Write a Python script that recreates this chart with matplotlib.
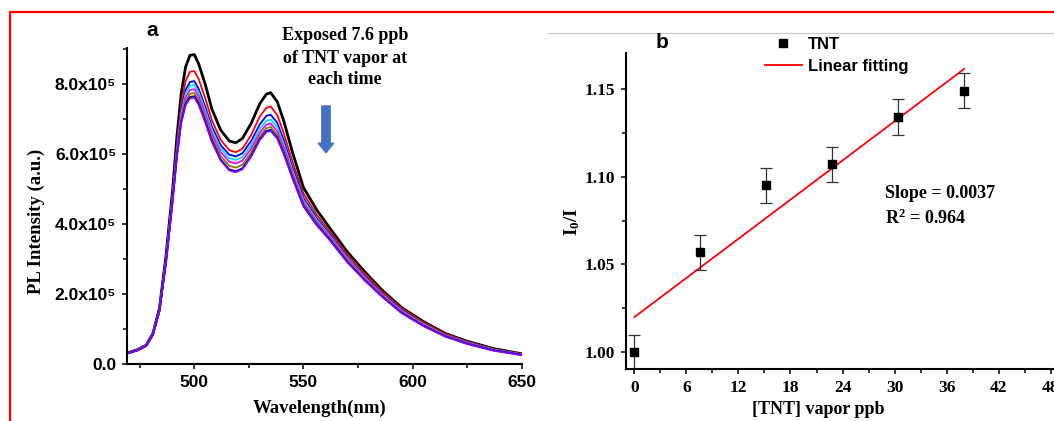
import numpy as np
import matplotlib
matplotlib.use('Agg')
import matplotlib.pyplot as plt
from matplotlib.lines import Line2D
from matplotlib.patches import FancyArrow
from matplotlib.ticker import MultipleLocator, FuncFormatter, FormatStrFormatter

# ---------------- data: panel a (PL spectra, intensity in units of 1e5) ----------------
wavelength = [470, 474, 478, 481, 484, 487, 490, 492, 494, 496, 498, 500, 502, 505, 508,
              512, 516, 519, 522, 526, 530, 533, 535, 538, 541, 545, 550, 556, 562, 570,
              578, 586, 595, 605, 615, 625, 637, 650]
spec_0 = [0.34, 0.42, 0.55, 0.88, 1.60, 3.10, 4.95, 6.50, 7.75, 8.50, 8.83, 8.85, 8.58, 8.00, 7.30,
          6.70, 6.38, 6.33, 6.45, 6.88, 7.45, 7.72, 7.76, 7.50, 6.95, 6.05, 5.05, 4.42, 3.90, 3.22,
          2.65, 2.12, 1.62, 1.22, 0.88, 0.66, 0.45, 0.30]
spec_1 = [0.34, 0.42, 0.55, 0.87, 1.58, 3.05, 4.85, 6.30, 7.45, 8.10, 8.36, 8.38, 8.15, 7.60, 6.98,
          6.42, 6.12, 6.06, 6.16, 6.55, 7.08, 7.33, 7.37, 7.12, 6.60, 5.78, 4.88, 4.28, 3.80, 3.14,
          2.59, 2.08, 1.60, 1.20, 0.87, 0.65, 0.44, 0.30]
spec_2 = [0.33, 0.41, 0.54, 0.86, 1.56, 3.00, 4.78, 6.15, 7.25, 7.84, 8.07, 8.09, 7.87, 7.36, 6.80,
          6.27, 5.99, 5.94, 6.03, 6.38, 6.86, 7.10, 7.13, 6.90, 6.40, 5.62, 4.76, 4.18, 3.72, 3.06,
          2.52, 2.02, 1.55, 1.16, 0.84, 0.63, 0.43, 0.29]
spec_3 = [0.33, 0.41, 0.54, 0.86, 1.55, 2.98, 4.75, 6.10, 7.17, 7.74, 7.96, 7.98, 7.76, 7.26, 6.70,
          6.17, 5.89, 5.84, 5.92, 6.26, 6.73, 6.96, 6.99, 6.77, 6.29, 5.54, 4.69, 4.13, 3.68, 3.03,
          2.49, 2.00, 1.53, 1.15, 0.83, 0.62, 0.42, 0.28]
spec_4 = [0.33, 0.41, 0.54, 0.85, 1.54, 2.95, 4.72, 6.05, 7.08, 7.63, 7.84, 7.86, 7.65, 7.15, 6.60,
          6.07, 5.79, 5.74, 5.82, 6.16, 6.62, 6.85, 6.88, 6.66, 6.19, 5.46, 4.63, 4.08, 3.64, 3.00,
          2.47, 1.98, 1.51, 1.13, 0.82, 0.61, 0.41, 0.28]
spec_5 = [0.33, 0.40, 0.53, 0.85, 1.53, 2.93, 4.68, 6.00, 7.00, 7.53, 7.73, 7.75, 7.54, 7.04, 6.49,
          5.96, 5.67, 5.62, 5.70, 6.05, 6.52, 6.75, 6.78, 6.56, 6.10, 5.39, 4.58, 4.04, 3.60, 2.97,
          2.44, 1.96, 1.49, 1.12, 0.81, 0.60, 0.41, 0.27]
spec_6 = [0.32, 0.40, 0.53, 0.84, 1.52, 2.90, 4.65, 5.95, 6.93, 7.45, 7.64, 7.66, 7.45, 6.95, 6.40,
          5.86, 5.57, 5.52, 5.60, 5.96, 6.44, 6.67, 6.70, 6.48, 6.03, 5.33, 4.53, 4.00, 3.57, 2.94,
          2.41, 1.94, 1.47, 1.10, 0.80, 0.59, 0.40, 0.27]
spec_7 = [0.32, 0.40, 0.53, 0.84, 1.51, 2.88, 4.62, 5.92, 6.90, 7.41, 7.60, 7.62, 7.41, 6.91, 6.36,
          5.83, 5.54, 5.49, 5.57, 5.93, 6.41, 6.64, 6.67, 6.45, 6.00, 5.31, 4.51, 3.98, 3.55, 2.92,
          2.40, 1.93, 1.46, 1.09, 0.79, 0.58, 0.39, 0.26]
spectra = [spec_0, spec_1, spec_2, spec_3, spec_4, spec_5, spec_6, spec_7]
intensity_unit = 1e5

# ---------------- data: panel b (Stern-Volmer) ----------------
tnt_ppb = [0.0, 7.6, 15.2, 22.8, 30.4, 38.0]
i0_over_i = [1.000, 1.057, 1.095, 1.107, 1.134, 1.149]
i0_err = [0.010, 0.010, 0.010, 0.010, 0.010, 0.010]
fit_slope = 0.00372
fit_intercept = 1.020

# ---------------- styling ----------------
W, H = 1054, 421
plt.rcParams['font.family'] = ['Liberation Sans', 'DejaVu Sans']
plt.rcParams['font.weight'] = 'bold'
plt.rcParams['mathtext.fontset'] = 'custom'
plt.rcParams['mathtext.rm'] = 'Liberation Serif:bold'
plt.rcParams['mathtext.bf'] = 'Liberation Serif:bold'
plt.rcParams['mathtext.it'] = 'Liberation Serif:bold'
plt.rcParams['mathtext.default'] = 'bf'
SERIF = ['Liberation Serif', 'DejaVu Serif']
SANS = ['Liberation Sans', 'DejaVu Sans']

spec_colors = ['#000000', '#FF0000', '#0000FF', '#00E0FF', '#FF00FF', '#808000', '#000080', '#7F00FF']
spec_lw = [2.0, 1.3, 1.3, 1.3, 1.3, 1.3, 1.3, 1.3]

fig = plt.figure(figsize=(W / 100, H / 100), dpi=100)


def fx(p):
    return p / W


def fy(p):
    return 1 - p / H


def style_axes(ax, fam):
    for s in ['top', 'right']:
        ax.spines[s].set_visible(False)
    for s in ['left', 'bottom']:
        ax.spines[s].set_linewidth(1.5)
    ax.tick_params(which='both', direction='out', width=1.1, labelfontfamily=fam)
    ax.tick_params(which='major', length=3.6)
    ax.tick_params(which='minor', length=3.0)


# ---------------- panel a ----------------
axa = fig.add_axes([fx(126.7), fy(364.3), (521.7 - 126.7) / W, (364.3 - 48.3) / H])
for vals, col, lw in zip(spectra, spec_colors, spec_lw):
    axa.plot(wavelength, np.array(vals) * intensity_unit, color=col, lw=lw, solid_joinstyle='round')
axa.set_xlim(469, 650)
axa.set_ylim(0, 9.03e5)
axa.xaxis.set_major_locator(MultipleLocator(50))
axa.xaxis.set_minor_locator(MultipleLocator(25))
axa.yaxis.set_major_locator(MultipleLocator(2e5))
axa.yaxis.set_minor_locator(MultipleLocator(1e5))
axa.yaxis.set_major_formatter(FuncFormatter(lambda v, _: '0.0' if abs(v) < 1 else f'{v / 1e5:.1f}x10\u2075'))
style_axes(axa, SANS)
axa.tick_params(axis='both', labelsize=12.5, pad=4)
axa.set_xlabel('Wavelength(nm)', family=SERIF, fontsize=13.5, fontweight='bold')
axa.set_ylabel('PL Intensity (a.u.)', family=SERIF, fontsize=13.5, fontweight='bold')
axa.xaxis.set_label_coords((320 - 126.7) / 395, (364.3 - 408) / 316)
axa.xaxis.label.set_va('center')
axa.yaxis.set_label_coords((36 - 126.7) / 395, (364.3 - 221.7) / 316)
axa.yaxis.label.set_va('center')

fig.text(fx(152), fy(31), 'a', fontsize=15, fontweight='bold', ha='center', va='center', family=SANS)
for txt, yy in zip(['Exposed 7.6 ppb', 'of TNT vapor at', 'each time'], [35, 58.3, 80]):
    fig.text(fx(345), fy(yy), txt, family=SERIF, fontsize=13, fontweight='bold', ha='center', va='center')
fig.add_artist(FancyArrow(fx(326), fy(106), 0, -(152.7 - 106) / H, width=8.3 / W,
                          head_width=15.5 / W, head_length=9.5 / H, length_includes_head=True,
                          color='#4472C4', transform=fig.transFigure))

# ---------------- panel b ----------------
axb = fig.add_axes([fx(625.7), fy(369.3), (1080 - 625.7) / W, (369.3 - 53.3) / H])
xs = np.array(tnt_ppb)
axb.plot([xs.min(), xs.max()], [fit_intercept + fit_slope * xs.min(), fit_intercept + fit_slope * xs.max()],
         color='red', lw=1.3, zorder=2)
axb.errorbar(tnt_ppb, i0_over_i, yerr=i0_err, fmt='s', color='black', ms=5.2, ecolor='#333333',
             elinewidth=0.9, capsize=4.5, capthick=0.9, zorder=3)
axb.set_xlim(-0.99, 51.36)
axb.set_ylim(0.9903, 1.1703)
axb.xaxis.set_major_locator(MultipleLocator(6))
axb.xaxis.set_minor_locator(MultipleLocator(3))
axb.yaxis.set_major_locator(MultipleLocator(0.05))
axb.yaxis.set_minor_locator(MultipleLocator(0.025))
axb.yaxis.set_major_formatter(FormatStrFormatter('%.2f'))
style_axes(axb, SERIF)
axb.tick_params(axis='both', labelsize=12.5, pad=4)
axb.set_xlabel('[TNT] vapor ppb', family=SERIF, fontsize=13, fontweight='bold')
axb.set_ylabel(r'$\mathbf{I_0/I}$', family=SERIF, fontsize=13.5, fontweight='bold')
axw = 1080 - 625.7
axb.xaxis.set_label_coords((818 - 625.7) / axw, (369.3 - 410) / 316)
axb.xaxis.label.set_va('center')
axb.yaxis.set_label_coords((571.7 - 625.7) / axw, (369.3 - 221.7) / 316)
axb.yaxis.label.set_va('center')

fig.text(fx(885), fy(193.3), 'Slope = 0.0037', family=SERIF, fontsize=13, fontweight='bold', va='center')
fig.text(fx(885), fy(218.3), r'R$^{\mathbf{2}}$ = 0.964', family=SERIF, fontsize=13, fontweight='bold', va='center')
fig.text(fx(661.7), fy(42), 'b', fontsize=15, fontweight='bold', ha='center', va='center', family=SANS)

handles = [Line2D([], [], ls='none', marker='s', color='black', ms=5.2),
           Line2D([], [], color='red', lw=1.3)]
axb.legend(handles, ['TNT', 'Linear fitting'], loc='upper left', bbox_to_anchor=(fx(765), fy(37.3)),
           bbox_transform=fig.transFigure, frameon=False, borderpad=0, borderaxespad=0,
           handlelength=2.2, handletextpad=0.35, labelspacing=0.4,
           prop={'family': SANS, 'weight': 'bold', 'size': 12})

# ---------------- decorations ----------------
fig.add_artist(Line2D([fx(548), fx(1060)], [fy(33.3), fy(33.3)], color='#c8c8c8', lw=0.9,
                      transform=fig.transFigure))
fig.add_artist(Line2D([fx(10), fx(10), fx(1060)], [fy(430), fy(11.7), fy(11.7)], color='red', lw=1.6,
                      transform=fig.transFigure))

fig.savefig('out.png', dpi=100)
